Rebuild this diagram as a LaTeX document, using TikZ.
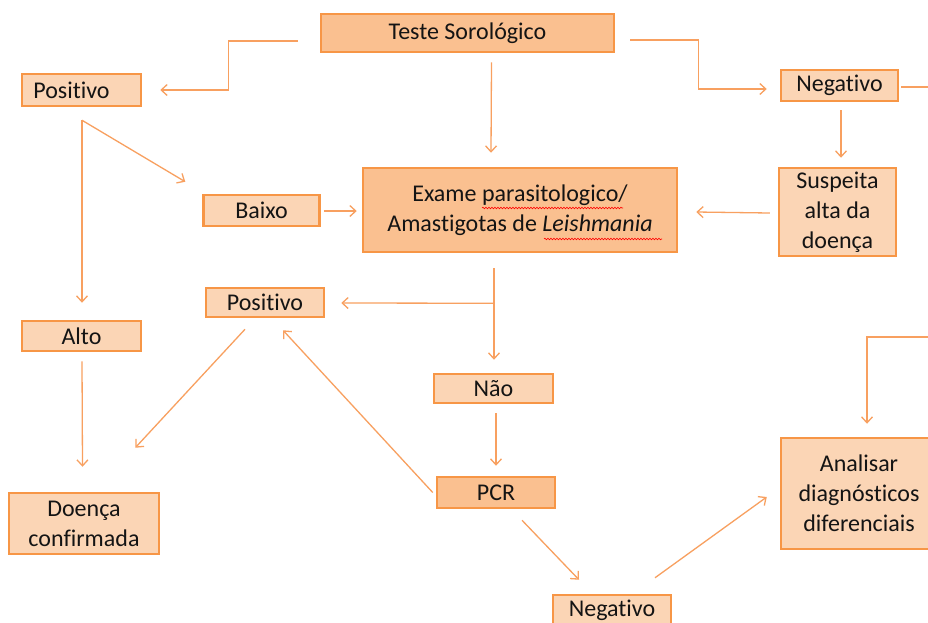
\documentclass[tikz,border=0pt]{standalone}
\usepackage{fontspec}
\setmainfont{Carlito}[Ligatures=NoCommon]
\usetikzlibrary{arrows.meta,decorations.pathmorphing}
\definecolor{obord}{HTML}{F79646}
\definecolor{olight}{HTML}{FBD5B5}
\definecolor{odark}{HTML}{FAC090}
\definecolor{oline}{HTML}{F8A060}
\definecolor{txt}{HTML}{141414}
\begin{document}
\begin{tikzpicture}[x=1pt,y=-1pt,
  box/.style={draw=obord,line width=2.5pt,fill=olight,inner sep=0pt,align=center,
    font=\fontsize{24}{30}\selectfont,text=txt},
  dbox/.style={box,fill=odark},
  conn/.style={draw=oline,line width=1.3pt,-{Straight Barb[length=6pt,width=11pt]}},
  plain/.style={draw=oline,line width=1.3pt},
  spell/.style={draw=red,line width=0.6pt,decorate,decoration={snake,amplitude=0.8pt,segment length=3pt}}]
\useasboundingbox[fill=white] (0,0) rectangle (928,622);

% nodes
\node[dbox,minimum width=293pt,minimum height=38pt] (teste) at (467.5,33) {Teste Sorológico};
\node[box,minimum width=119pt,minimum height=32pt] (posTL) at (81.5,90) {Positivo\hspace{20pt}};
\node[box,minimum width=117pt,minimum height=31pt] (neg) at (839.5,85.5) {Negativo};
\node[box,minimum width=116pt,minimum height=31pt] (baixo) at (261.5,210.5) {Baixo};
\node[dbox,minimum width=314pt,minimum height=84pt] (exame) at (520,210) {Exame parasitologico/\\Amastigotas de \textit{Leishmania}};
\node[box,minimum width=117pt,minimum height=88pt] (susp) at (837.5,212) {Suspeita\\alta da\\doença};
\node[box,minimum width=118pt,minimum height=29pt] (posM) at (265,302.5) {Positivo};
\node[box,minimum width=119pt,minimum height=30pt] (alto) at (81.5,336) {Alto};
\node[box,minimum width=119pt,minimum height=29pt] (nao) at (493.5,388.5) {Não};
\node[dbox,minimum width=118pt,minimum height=31pt] (pcr) at (496,492.5) {PCR};
\node[box,minimum width=150pt,minimum height=61pt] (doenca) at (84,523.5) {Doença\\confirmada};
\node[box,minimum width=156pt,minimum height=111pt] (anal) at (859,493.5) {Analisar\\diagnósticos\\diferenciais};
\node[box,minimum width=118pt,minimum height=30pt] (negB) at (612,610) {Negativo};

% spell-check underlines
\draw[spell] ([shift={(-38,-2)}]exame.center) -- ++(141,0);
\draw[spell] ([shift={(24,29)}]exame.center) -- ++(118,0);

% connectors
\draw[conn] ([shift={(-22,8)}]teste.west) -- ++(-69,0) |- ([shift={(18,0)}]posTL.east);
\draw[conn] ([shift={(15,7)}]teste.east) -- ++(68,0) |- ([shift={(-13,3.5)}]neg.west);
\draw[conn] ([shift={(24,9)}]teste.south) -- ([shift={(-29,-14)}]exame.north);
\draw[conn] ([shift={(1.5,8)}]neg.south) -- ([shift={(3.5,-9)}]susp.north);
\coordinate (offR1) at (940,87);
\draw[plain] ([shift={(2,1.5)}]neg.east) -- (offR1);
\draw[conn] ([shift={(-8,1)}]susp.west) -- ([shift={(18,2)}]exame.east);
\coordinate (posSplit) at ([shift={(0.5,13)}]posTL.south);
\draw[conn] (posSplit) -- ([shift={(0.5,-17)}]alto.north);
\draw[conn] (posSplit) -- ([shift={(-17,-12)}]baixo.north west);
\draw[conn] ([shift={(3,0.5)}]baixo.east) -- ([shift={(-5,1)}]exame.west);
\coordinate (exSplit) at ([shift={(-26,50)}]exame.south);
\draw[conn] ([shift={(-26,15)}]exame.south) -- ([shift={(0.5,-13)}]nao.north);
\draw[conn] (exSplit) -- ([shift={(16,0.5)}]posM.east);
\draw[conn] ([shift={(-20,11)}]posM.south) -- ([shift={(-25,-44)}]doenca.north east);
\draw[conn] ([shift={(0.5,9)}]alto.south) -- ([shift={(-1.5,-25)}]doenca.north);
\draw[conn] ([shift={(2.5,9)}]nao.south) -- ([shift={(0,-10)}]pcr.north);
\draw[conn] ([shift={(-3,0)}]pcr.west) -- ([shift={(18,12)}]posM.south);
\draw[conn] ([shift={(26,11)}]pcr.south) -- ([shift={(-33,-14)}]negB.north);
\draw[conn] ([shift={(43,-16)}]negB.north) -- ([shift={(-13,3.5)}]anal.west);
\coordinate (offR2) at (940,337);
\draw[conn] (offR2) -| ([shift={(8,-13)}]anal.north);
\end{tikzpicture}
\end{document}
